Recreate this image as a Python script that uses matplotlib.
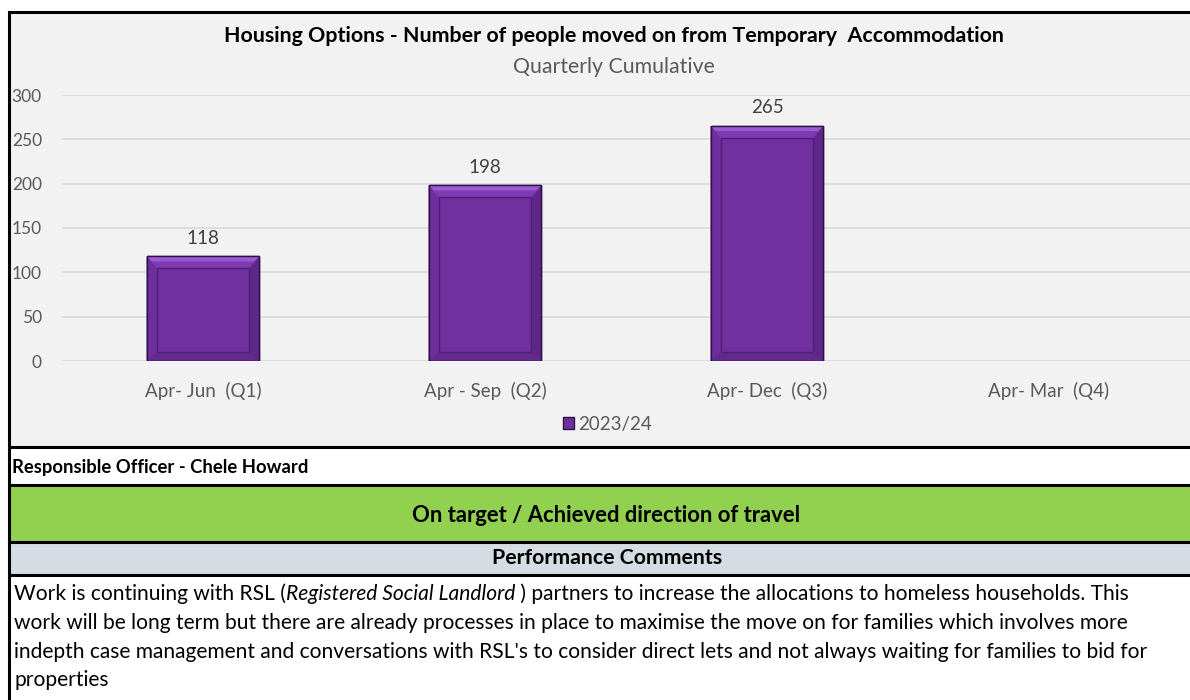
import matplotlib.pyplot as plt
from matplotlib.patches import Rectangle, Polygon
import numpy as np

plt.rcParams['font.family'] = ['Lato', 'DejaVu Sans']

# chart data
quarters = ["Apr- Jun  (Q1)", "Apr - Sep  (Q2)", "Apr- Dec  (Q3)", "Apr- Mar  (Q4)"]
moved_on = [118, 198, 265, np.nan]
series_name = "2023/24"
y_ticks = [0, 50, 100, 150, 200, 250, 300]

title = "Housing Options - Number of people moved on from Temporary  Accommodation"
subtitle = "Quarterly Cumulative"
officer = "Responsible Officer - Chele Howard"
status = "On target / Achieved direction of travel"
comments_head = "Performance Comments"
comment_lines = [
    ["Work is continuing with RSL (", "*Registered Social Landlord", " ) partners to increase the allocations to homeless households. This"],
    ["work will be long term but there are already processes in place to maximise the move on for families which involves more"],
    ["indepth case management and conversations with RSL's to consider direct lets and not always waiting for families to bid for"],
    ["properties"],
]

W, H = 1190, 700
fig = plt.figure(figsize=(W / 100, H / 100), dpi=100)
fig.patch.set_facecolor('white')


def fy(y):
    return 1 - y / H


def fx(x):
    return x / W


# panel backgrounds
for top, bot, col in [(12, 447, '#F2F2F2'), (485, 541, '#92D050'), (542, 575, '#D6DCE4')]:
    fig.patches.append(Rectangle((fx(9), fy(bot)), 1, fy(top) - fy(bot), transform=fig.transFigure,
                                 facecolor=col, edgecolor='none', zorder=-2))

# table lines
for y in [12, 447, 485, 542, 575]:
    fig.add_artist(plt.Line2D([fx(9), 1], [fy(y), fy(y)], transform=fig.transFigure, color='black', lw=2.2))
fig.add_artist(plt.Line2D([fx(9), fx(9)], [fy(12), 0], transform=fig.transFigure, color='black', lw=2.2))

# chart axes
ax = fig.add_axes([fx(62), fy(361), 1 - fx(62), fy(95) - fy(361)])
ax.set_zorder(2)
ax.set_facecolor('none')
x = np.arange(len(quarters))
bar_w = 0.4
bars = ax.bar(x, moved_on, width=bar_w, color='#7030A0', edgecolor='#2E1145', linewidth=1.0, zorder=3,
              label=series_name)
ax.set_xlim(-0.5, len(quarters) - 0.5)
ax.set_ylim(0, 300)
ax.set_yticks(y_ticks)
ax.set_xticks(x, quarters)
ax.grid(axis='y', color='#D9D9D9', lw=1.2, zorder=0)
ax.set_axisbelow(True)
for s in ax.spines.values():
    s.set_visible(False)
ax.tick_params(axis='y', length=0, pad=14.5, labelsize=12.5, labelcolor='#595959')
ax.tick_params(axis='x', length=0, pad=15, labelsize=13.5, labelcolor='#595959')

# bevel effect on bars
ax_w = W - 62
ax_h = 361 - 95
dx = 10 * (len(quarters)) / ax_w
dy = 10 * 300 / ax_h
for xi, v in zip(x, moved_on):
    if np.isnan(v):
        continue
    x0, x1 = xi - bar_w / 2, xi + bar_w / 2
    ax.add_patch(Polygon([(x0, v), (x1, v), (x1 - dx, v - dy * 1.2), (x0 + dx, v - dy * 1.2)],
                         closed=True, facecolor='#7E3AB3', edgecolor='none', zorder=4))
    ax.add_patch(Polygon([(x0, v), (x1, v), (x1 - dx * 0.5, v - dy * 0.5), (x0 + dx * 0.5, v - dy * 0.5)],
                         closed=True, facecolor='#9A5AD2', edgecolor='none', zorder=4))
    ax.add_patch(Polygon([(x1, 0), (x1, v), (x1 - dx, v - dy * 1.2), (x1 - dx, dy * 0.9)],
                         closed=True, facecolor='#5F2789', edgecolor='none', zorder=4))
    ax.add_patch(Polygon([(x0, 0), (x1, 0), (x1 - dx, dy * 0.9), (x0 + dx, dy * 0.9)],
                         closed=True, facecolor='#622A8C', edgecolor='none', zorder=4))
    ax.add_patch(Polygon([(x0, 0), (x0, v), (x0 + dx, v - dy * 1.2), (x0 + dx, dy * 0.9)],
                         closed=True, facecolor='#6D2F9C', edgecolor='none', zorder=4))
    ax.add_patch(Rectangle((x0 + dx, dy * 0.9), bar_w - 2 * dx, v - dy * 2.1,
                           facecolor='#7030A0', edgecolor='#4F1F73', lw=1.0, zorder=5))
    ax.add_patch(Rectangle((x0, 0), bar_w, v, facecolor='none', edgecolor='#2E1145', lw=1.0, zorder=6))
    ax.annotate(f"{v:.0f}", (xi, v), xytext=(0, 7), textcoords='offset points', ha='center',
                va='bottom', fontsize=13.5, color='#404040')

leg = fig.legend(handles=[bars], labels=[series_name], loc='center', bbox_to_anchor=(fx(607), fy(424)),
                 frameon=False, fontsize=13.5, handlelength=0.6, handleheight=0.6, handletextpad=0.2)
for t in leg.get_texts():
    t.set_color('#595959')

# titles
fig.text(fx(614), fy(36), title, ha='center', va='center', fontsize=15.4, fontweight='bold', color='black')
fig.text(fx(614), fy(67), subtitle, ha='center', va='center', fontsize=15.3, color='#595959')

# table text
fig.text(fx(12), fy(467), officer, ha='left', va='center', fontsize=13.3, fontweight='bold', color='black')
fig.text(fx(606), fy(516), status, ha='center', va='center', fontsize=15.8, fontweight='bold', color='black')
fig.text(fx(607), fy(558), comments_head, ha='center', va='center', fontsize=15.3, fontweight='bold', color='black')

fig.canvas.draw()
renderer = fig.canvas.get_renderer()
line_y = [594, 623, 652, 680]
for yy, parts in zip(line_y, comment_lines):
    xpos = 14
    for p in parts:
        style = 'normal'
        if p.startswith('*'):
            p = p[1:]
            style = 'italic'
        t = fig.text(fx(xpos), fy(yy), p, ha='left', va='center', fontsize=15.1, style=style, color='black')
        bb = t.get_window_extent(renderer)
        xpos += bb.width

fig.savefig('out.png', dpi=100, facecolor='white')
